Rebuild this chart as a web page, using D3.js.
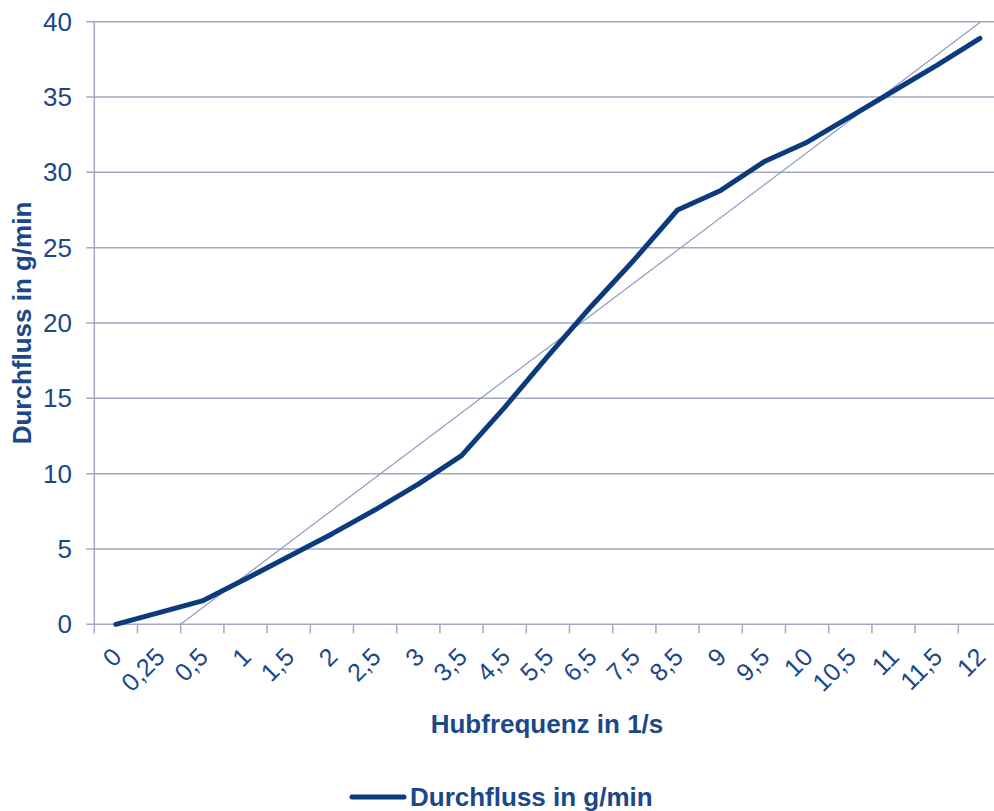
<!DOCTYPE html>
<html>
<head>
<meta charset="utf-8">
<script src="https://cdn.jsdelivr.net/npm/d3@7"></script>
<style>
  html, body { margin: 0; padding: 0; background: #ffffff; }
  svg { display: block; }
  text { font-family: "Liberation Sans", Arial, sans-serif; }
</style>
</head>
<body>
<svg id="chart" width="994" height="811"></svg>
<script>
// Hubfrequenz categories (1/s) and measured flow (g/min)
const categories = ["0", "0,25", "0,5", "1", "1,5", "2", "2,5", "3", "3,5", "4,5", "5,5",
                    "6,5", "7,5", "8,5", "9", "9,5", "10", "10,5", "11", "11,5", "12"];
const flow = [0, 0.78, 1.55, 3.0, 4.5, 6.0, 7.6, 9.3, 11.2, 14.4, 17.8,
              21.1, 24.2, 27.5, 28.8, 30.7, 32.0, 33.7, 35.4, 37.1, 38.9];
const yTicks = [0, 5, 10, 15, 20, 25, 30, 35, 40];

const seriesName = "Durchfluss in g/min";
const xTitle = "Hubfrequenz in 1/s";
const yTitle = "Durchfluss in g/min";

const textColor = "#1a4888";
const lineColor = "#0b3b7c";
const gridColor = "#a3a9c2";
const trendColor = "#8f9ac0";

const svg = d3.select("#chart");

const plot = { left: 94.3, right: 1001.5, top: 21.7, bottom: 624.3 };

const x = d3.scaleBand()
  .domain(categories)
  .range([plot.left, plot.right])
  .paddingInner(0).paddingOuter(0);
const bw = x.bandwidth();
const cx = c => x(c) + bw / 2;

const y = d3.scaleLinear().domain([0, 40]).range([plot.bottom, plot.top]);

// horizontal gridlines with short ticks left of the axis
svg.append("g")
  .selectAll("line")
  .data(yTicks)
  .join("line")
  .attr("x1", plot.left - 8)
  .attr("x2", plot.right)
  .attr("y1", d => y(d))
  .attr("y2", d => y(d))
  .attr("stroke", gridColor)
  .attr("stroke-width", 1.5);

// vertical axis line
svg.append("line")
  .attr("x1", plot.left).attr("x2", plot.left)
  .attr("y1", plot.top).attr("y2", plot.bottom)
  .attr("stroke", gridColor).attr("stroke-width", 1.5);

// category tick marks at band boundaries
const boundaries = categories.map(c => x(c)).concat([plot.right]);
svg.append("g")
  .selectAll("line")
  .data(boundaries)
  .join("line")
  .attr("x1", d => d).attr("x2", d => d)
  .attr("y1", plot.bottom).attr("y2", plot.bottom + 9)
  .attr("stroke", gridColor).attr("stroke-width", 1.5);

// y tick labels
svg.append("g")
  .selectAll("text")
  .data(yTicks)
  .join("text")
  .attr("x", 72)
  .attr("y", d => y(d))
  .attr("dy", "0.35em")
  .attr("text-anchor", "end")
  .attr("font-size", 26)
  .attr("fill", textColor)
  .text(d => d);

// x tick labels, rotated
svg.append("g")
  .selectAll("text")
  .data(categories)
  .join("text")
  .attr("transform", d => `translate(${cx(d) + 1},${plot.bottom + 28}) rotate(-45)`)
  .attr("dy", "0.35em")
  .attr("text-anchor", "end")
  .attr("font-size", 25)
  .attr("fill", textColor)
  .text(d => d);

// linear trendline (least squares over category index)
const n = flow.length;
const idx = d3.range(1, n + 1);
const mx = d3.mean(idx), my = d3.mean(flow);
const slope = d3.sum(idx, (i, k) => (i - mx) * (flow[k] - my)) / d3.sum(idx, i => (i - mx) ** 2);
const intercept = my - slope * mx;
const trend = (i) => intercept + slope * i;

svg.append("clipPath").attr("id", "plotClip")
  .append("rect")
  .attr("x", plot.left).attr("y", plot.top)
  .attr("width", plot.right - plot.left).attr("height", plot.bottom - plot.top);

svg.append("line")
  .attr("clip-path", "url(#plotClip)")
  .attr("x1", cx(categories[0])).attr("y1", y(trend(1)))
  .attr("x2", cx(categories[n - 1])).attr("y2", y(trend(n)))
  .attr("stroke", trendColor).attr("stroke-width", 1.2);

// flow line
const line = d3.line()
  .x((d, i) => cx(categories[i]))
  .y(d => y(d));

svg.append("path")
  .datum(flow)
  .attr("d", line)
  .attr("fill", "none")
  .attr("stroke", lineColor)
  .attr("stroke-width", 5)
  .attr("stroke-linejoin", "round")
  .attr("stroke-linecap", "round");

// axis titles
svg.append("text")
  .attr("x", 547)
  .attr("y", 733)
  .attr("text-anchor", "middle")
  .attr("font-size", 26)
  .attr("font-weight", "bold")
  .attr("fill", textColor)
  .text(xTitle);

svg.append("text")
  .attr("transform", "translate(31,323) rotate(-90)")
  .attr("text-anchor", "middle")
  .attr("font-size", 26)
  .attr("font-weight", "bold")
  .attr("fill", textColor)
  .text(yTitle);

// legend
const legend = svg.append("g").attr("transform", "translate(352,797)");
legend.append("line")
  .attr("x1", 0).attr("x2", 52)
  .attr("y1", 0).attr("y2", 0)
  .attr("stroke", lineColor).attr("stroke-width", 5)
  .attr("stroke-linecap", "round");
legend.append("text")
  .attr("x", 58)
  .attr("y", 8.5)
  .attr("font-size", 26)
  .attr("font-weight", "bold")
  .attr("fill", textColor)
  .text(seriesName);
</script>
</body>
</html>
